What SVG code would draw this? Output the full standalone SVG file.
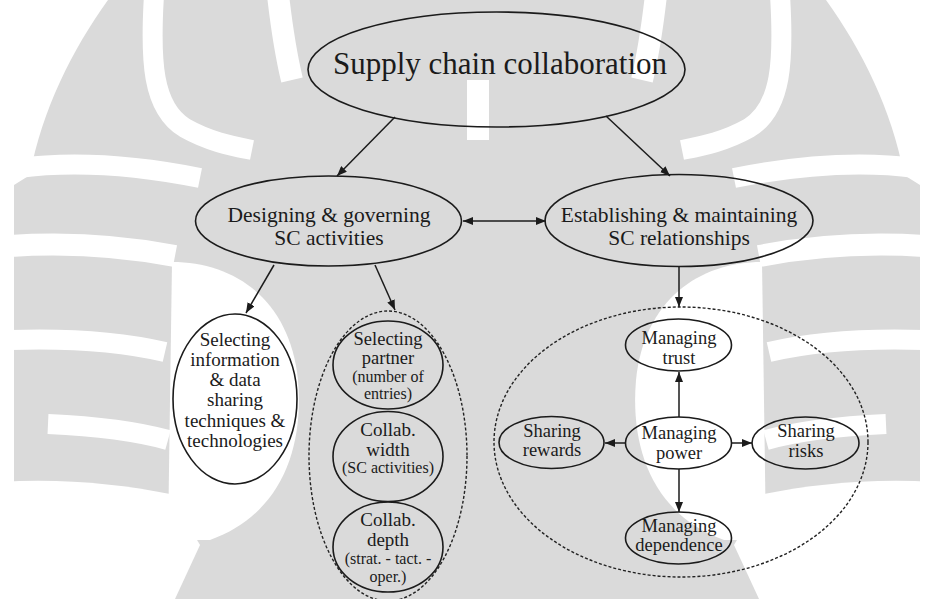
<svg xmlns="http://www.w3.org/2000/svg" width="934" height="599" viewBox="0 0 934 599">
  <defs>
    <style>
      .node ellipse { fill: none; stroke: #1b1b1b; stroke-width: 1.6; }
      .grp { fill: none; stroke: #222; stroke-width: 1.4; stroke-dasharray: 3 2; }
      .edge { stroke: #1b1b1b; stroke-width: 1.5; fill: none; }
      text { font-family: "Liberation Serif", "Times New Roman", "DejaVu Serif", serif; fill: #1b1b1b; text-anchor: middle; }
      .t31 { font-size: 31px; }
      .t21 { font-size: 21.5px; }
      .t19 { font-size: 19px; }
      .t18 { font-size: 18.5px; }
      .t16 { font-size: 16px; }
      .wm { fill: #ffffff; stroke: none; }
      .wms { fill: none; stroke: #ffffff; }
    </style>
    <marker id="arrow" viewBox="0 0 10 8" markerWidth="10" markerHeight="8" refX="10" refY="4" orient="auto-start-reverse" markerUnits="userSpaceOnUse">
      <path d="M0,0 L10,4 L0,8 Z" fill="#1b1b1b"/>
    </marker>
    <!-- one half of the background emblem; mirrored for the other half -->
    <g id="emblem-half">
      <path class="wm" d="M0,0 L108,0 C72,50 42,110 30,175 L14,185 L14,599 L0,599 Z"/>
      <path class="wms" stroke-width="20" d="M154,-5 C150,60 152,108 185,128 C210,142 232,146 252,150"/>
      <path class="wms" stroke-width="22" d="M278,-5 C282,30 286,55 292,80"/>
      <path class="wms" stroke-width="20" d="M18,168 C80,160 140,166 200,178"/>
      <path class="wms" stroke-width="22" d="M10,246 C70,242 122,246 175,256"/>
      <path class="wms" stroke-width="20" d="M10,340 C70,338 122,342 165,352"/>
      <path class="wms" stroke-width="20" d="M48,424 C92,426 132,430 168,440"/>
      <path class="wm" d="M172,262 C235,262 290,300 298,380 C304,450 280,515 210,540 L168,540 Z"/>
      <path class="wm" d="M0,482 C60,478 120,484 170,494 L200,545 L175,599 L0,599 Z"/>
    </g>
  </defs>

  <!-- background emblem -->
  <g id="background">
    <rect x="0" y="0" width="934" height="599" fill="#dadada"/>
    <use href="#emblem-half"/>
    <use href="#emblem-half" transform="matrix(-1 0 0 1 934 0)"/>
    <path class="wms" stroke-width="22" d="M478,80 L478,140"/>
  </g>

  <!-- connectors -->
  <g id="connectors">
    <line class="edge" x1="395" y1="117" x2="337" y2="176" marker-end="url(#arrow)"/>
    <line class="edge" x1="606" y1="116" x2="670" y2="176" marker-end="url(#arrow)"/>
    <line class="edge" x1="463" y1="221" x2="546" y2="221" marker-start="url(#arrow)" marker-end="url(#arrow)"/>
    <line class="edge" x1="274" y1="265" x2="246" y2="313" marker-end="url(#arrow)"/>
    <line class="edge" x1="375" y1="265" x2="395" y2="310" marker-end="url(#arrow)"/>
    <line class="edge" x1="679" y1="267" x2="679" y2="307" marker-end="url(#arrow)"/>
    <line class="edge" x1="679" y1="417" x2="679" y2="372" marker-end="url(#arrow)"/>
    <line class="edge" x1="679" y1="469" x2="679" y2="512" marker-end="url(#arrow)"/>
    <line class="edge" x1="625" y1="443" x2="605" y2="443" marker-end="url(#arrow)"/>
    <line class="edge" x1="732" y1="443" x2="752" y2="443" marker-end="url(#arrow)"/>
  </g>

  <!-- dashed groupings -->
  <g id="collab-scope">
    <ellipse class="grp" cx="388" cy="456" rx="79" ry="145"/>
  </g>
  <g id="relationship-scope">
    <ellipse class="grp" cx="681" cy="442" rx="187" ry="135"/>
  </g>

  <g id="supply-chain-collaboration" class="node">
    <ellipse cx="496.5" cy="69.5" rx="188.5" ry="57.5"/>
    <text class="t31" x="500" y="74">Supply chain collaboration</text>
  </g>

  <g id="designing-governing" class="node">
    <ellipse cx="328.5" cy="221" rx="133" ry="45"/>
    <text class="t21" x="329" y="222">Designing &amp; governing</text>
    <text class="t21" x="329" y="245">SC activities</text>
  </g>

  <g id="establishing-maintaining" class="node">
    <ellipse cx="679" cy="220.5" rx="134" ry="46"/>
    <text class="t21" x="679" y="222">Establishing &amp; maintaining</text>
    <text class="t21" x="679" y="245">SC relationships</text>
  </g>

  <g id="info-sharing" class="node">
    <ellipse cx="235" cy="399" rx="62" ry="85"/>
    <text class="t19" x="235" y="346">Selecting</text>
    <text class="t19" x="235" y="366">information</text>
    <text class="t19" x="235" y="386">&amp; data</text>
    <text class="t19" x="235" y="406">sharing</text>
    <text class="t19" x="235" y="427">techniques &amp;</text>
    <text class="t19" x="235" y="447">technologies</text>
  </g>

  <g id="selecting-partner" class="node">
    <ellipse cx="388" cy="365" rx="55" ry="44"/>
    <text class="t18" x="388" y="345">Selecting</text>
    <text class="t18" x="388" y="364">partner</text>
    <text class="t16" x="388" y="382">(number of</text>
    <text class="t16" x="388" y="399">entries)</text>
  </g>

  <g id="collab-width" class="node">
    <ellipse cx="388" cy="456.5" rx="55" ry="45"/>
    <text class="t19" x="388" y="436">Collab.</text>
    <text class="t19" x="388" y="456">width</text>
    <text class="t16" x="388" y="473">(SC activities)</text>
  </g>

  <g id="collab-depth" class="node">
    <ellipse cx="388" cy="547" rx="55" ry="45"/>
    <text class="t19" x="388" y="526">Collab.</text>
    <text class="t19" x="388" y="546">depth</text>
    <text class="t16" x="388" y="564">(strat. - tact. -</text>
    <text class="t16" x="388" y="582">oper.)</text>
  </g>

  <g id="managing-trust" class="node">
    <ellipse cx="678.5" cy="345" rx="53" ry="26"/>
    <text class="t18" x="679" y="344">Managing</text>
    <text class="t18" x="679" y="364">trust</text>
  </g>

  <g id="managing-power" class="node">
    <ellipse cx="678.5" cy="443" rx="53" ry="26"/>
    <text class="t18" x="679" y="439">Managing</text>
    <text class="t18" x="679" y="459">power</text>
  </g>

  <g id="sharing-rewards" class="node">
    <ellipse cx="551.5" cy="442.5" rx="52.5" ry="26"/>
    <text class="t18" x="552" y="437">Sharing</text>
    <text class="t18" x="552" y="456">rewards</text>
  </g>

  <g id="sharing-risks" class="node">
    <ellipse cx="805.5" cy="443" rx="53.5" ry="26"/>
    <text class="t18" x="806" y="437">Sharing</text>
    <text class="t18" x="806" y="457">risks</text>
  </g>

  <g id="managing-dependence" class="node">
    <ellipse cx="678.5" cy="538" rx="53" ry="26"/>
    <text class="t18" x="679" y="532">Managing</text>
    <text class="t18" x="679" y="551">dependence</text>
  </g>
</svg>
